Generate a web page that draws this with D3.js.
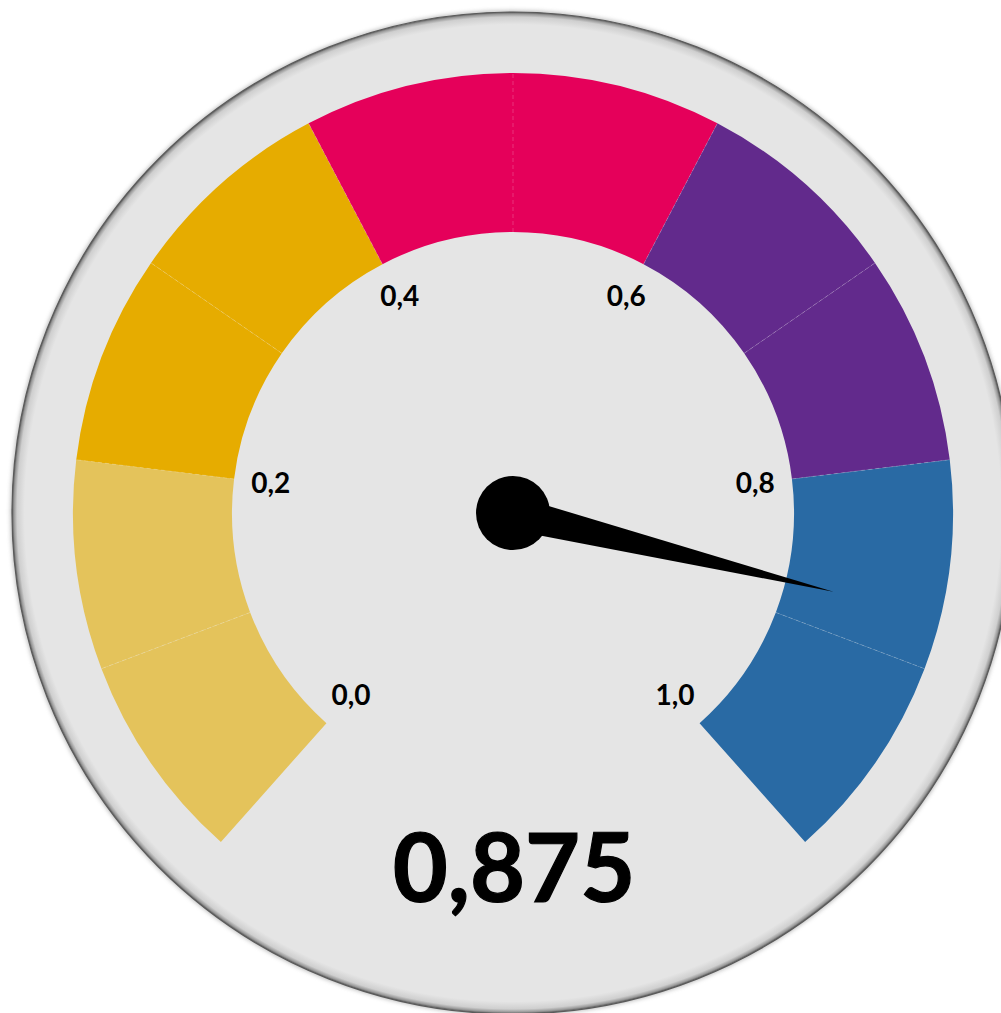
<!DOCTYPE html>
<html>
<head>
<meta charset="utf-8">
<script src="https://cdn.jsdelivr.net/npm/d3@7"></script>
<style>
  html, body { margin: 0; padding: 0; background: #ffffff; }
  svg { display: block; }
</style>
</head>
<body>
<div id="chart"></div>
<script>
// ---- data ----
const bandStarts = [0.0, 0.1, 0.2, 0.3, 0.4, 0.5, 0.6, 0.7, 0.8, 0.9];
const bandEnds   = [0.1, 0.2, 0.3, 0.4, 0.5, 0.6, 0.7, 0.8, 0.9, 1.0];
const bandColors = ["#E4C35B", "#E4C35B", "#E6AC00", "#E6AC00", "#E5005A",
                    "#E5005A", "#622A8C", "#622A8C", "#296AA4", "#296AA4"];
const tickValues = [0.0, 0.2, 0.4, 0.6, 0.8, 1.0];
const tickLabels = ["0,0", "0,2", "0,4", "0,6", "0,8", "1,0"];
const gaugeValue = 0.875;
const gaugeLabel = "0,875";

// ---- layout ----
const W = 1001, H = 1013;
const cx = 513, cy = 513;
const discR = 501;
const outerR = 440, innerR = 281;
const labelR = 244;
const needleLen = 330, needleBase = 17, hubR = 37;
const halfSpan = 138.4 * Math.PI / 180;

const angle = d3.scaleLinear().domain([0, 1]).range([-halfSpan, halfSpan]);

const svg = d3.select("#chart").append("svg")
  .attr("width", W).attr("height", H);

const defs = svg.append("defs");
const rg = defs.append("radialGradient").attr("id", "disc")
  .attr("cx", "50%").attr("cy", "50%").attr("r", "50%");
[[0, "#E5E5E5"], [0.975, "#E5E5E5"], [0.99, "#CFCFCF"], [0.996, "#999"], [1, "#555"]]
  .forEach(([o, c]) => rg.append("stop").attr("offset", o).attr("stop-color", c));
const blur = defs.append("filter").attr("id", "shadow")
  .attr("x", "-10%").attr("y", "-10%").attr("width", "120%").attr("height", "120%");
blur.append("feGaussianBlur").attr("stdDeviation", 2);

const g = svg.append("g").attr("transform", `translate(${cx},${cy})`);

// outer disc with soft shadow
g.append("circle").attr("r", discR + 1.5).attr("fill", "#777")
  .attr("opacity", 0.5).attr("filter", "url(#shadow)");
g.append("circle").attr("r", discR).attr("fill", "url(#disc)")
  .attr("stroke", "#5a5a5a").attr("stroke-width", 1.2);

// bands
const arc = d3.arc().innerRadius(innerR).outerRadius(outerR);
const bands = bandStarts.map((s, i) => ({ s, e: bandEnds[i], c: bandColors[i] }));
g.selectAll("path.band").data(bands).join("path")
  .attr("class", "band")
  .attr("d", d => arc({ startAngle: angle(d.s), endAngle: angle(d.e) }))
  .attr("fill", d => d.c);

// faint separators between bands
g.selectAll("line.sep").data(bandStarts.slice(1)).join("line")
  .attr("class", "sep")
  .attr("x1", d => innerR * Math.sin(angle(d)))
  .attr("y1", d => -innerR * Math.cos(angle(d)))
  .attr("x2", d => outerR * Math.sin(angle(d)))
  .attr("y2", d => -outerR * Math.cos(angle(d)))
  .attr("stroke", "rgba(255,255,255,0.25)")
  .attr("stroke-width", 0.8)
  .attr("stroke-dasharray", "4,3");

// tick labels
g.selectAll("text.tick").data(tickValues).join("text")
  .attr("class", "tick")
  .attr("x", d => labelR * Math.sin(angle(d)))
  .attr("y", d => -labelR * Math.cos(angle(d)))
  .attr("dy", "0.33em")
  .attr("text-anchor", "middle")
  .attr("font-family", "Lato, 'Open Sans', sans-serif")
  .attr("font-weight", "bold")
  .attr("font-size", 28)
  .attr("fill", "#000")
  .text((d, i) => tickLabels[i]);

// needle
const a = angle(gaugeValue);
const ux = Math.sin(a), uy = -Math.cos(a);
const px = -uy, py = ux;
const needlePts = [
  [px * needleBase, py * needleBase],
  [ux * needleLen, uy * needleLen],
  [-px * needleBase, -py * needleBase]
];
g.append("path")
  .attr("d", d3.line()(needlePts) + "Z")
  .attr("fill", "#000");
g.append("circle").attr("r", hubR).attr("fill", "#000");

// value label
g.append("text")
  .attr("x", 1)
  .attr("y", 389)
  .attr("text-anchor", "middle")
  .attr("font-family", "Lato, 'Open Sans', sans-serif")
  .attr("font-weight", "bold")
  .attr("font-size", 95)
  .attr("fill", "#000")
  .attr("stroke", "#000")
  .attr("stroke-width", 1.2)
  .text(gaugeLabel);
</script>
</body>
</html>
